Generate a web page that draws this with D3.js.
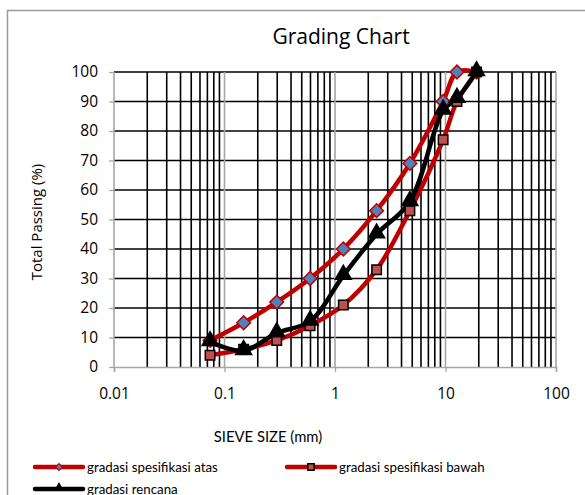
<!DOCTYPE html>
<html><head><meta charset="utf-8">
<script src="https://cdn.jsdelivr.net/npm/d3@7"></script>
<style>body{margin:0;background:#fff}svg{display:block}</style>
</head><body><svg id="c" width="585" height="495" font-family="Lato, sans-serif"></svg>
<script>
const sieve = [19.1, 12.7, 9.52, 4.76, 2.38, 1.19, 0.595, 0.297, 0.149, 0.074];
const atas = [100, 100, 90, 69, 53, 40, 30, 22, 15, 9];
const bawah = [100, 90, 77, 53, 33, 21, 14, 9, 6, 4];
const rencana = [100, 91, 87, 56, 45, 31, 15.5, 11.5, 5.5, 8.5];
const xTicks = [0.01, 0.1, 1, 10, 100];
const yTicks = [0,10,20,30,40,50,60,70,80,90,100];
const seriesNames = ["gradasi spesifikasi atas","gradasi spesifikasi bawah","gradasi rencana"];
const OS = "'Open Sans', sans-serif";

const svg = d3.select("#c");
svg.append("rect").attr("x",7.5).attr("y",10.5).attr("width",600).attr("height",600)
  .attr("fill","none").attr("stroke","#9a9a9a").attr("stroke-width",1.5);

const x = d3.scaleLog().domain([0.01,100]).range([114,556]);
const y = d3.scaleLinear().domain([0,100]).range([367,72]);

const minors = [];
for (let e=-2;e<2;e++) for (let k=2;k<=9;k++) minors.push(k*Math.pow(10,e));
svg.append("g").selectAll("line").data(minors).join("line")
  .attr("x1",d=>x(d)).attr("x2",d=>x(d)).attr("y1",y(0)).attr("y2",y(100))
  .attr("stroke","#000").attr("stroke-width",1.6);
svg.append("g").selectAll("line").data(yTicks.filter(d=>d>0)).join("line")
  .attr("x1",x(0.01)).attr("x2",x(100)).attr("y1",d=>y(d)).attr("y2",d=>y(d))
  .attr("stroke","#000").attr("stroke-width",1.6);
svg.append("g").selectAll("line").data(xTicks).join("line")
  .attr("x1",d=>x(d)).attr("x2",d=>x(d)).attr("y1",y(0)).attr("y2",y(100))
  .attr("stroke","#a6a6a6").attr("stroke-width",1.6);

const yAxis = d3.axisLeft(y).tickValues(yTicks).tickSize(5).tickPadding(11);
const gy = svg.append("g").attr("transform",`translate(${x(0.01)},0)`).call(yAxis);
gy.select(".domain").remove();
gy.selectAll("line").attr("stroke","#a6a6a6").attr("stroke-width",1.3);
gy.selectAll("text").style("font-size","15.5px").style("font-family",OS).attr("fill","#000");

const xAxis = d3.axisBottom(x).tickValues(xTicks).tickFormat(d=>String(d)).tickSize(5).tickPadding(16);
const gx = svg.append("g").attr("transform",`translate(0,${y(0)})`).call(xAxis);
gx.select(".domain").attr("stroke","#a6a6a6").attr("stroke-width",1.6);
gx.selectAll("line").attr("stroke","#a6a6a6").attr("stroke-width",1.3);
gx.selectAll("text").style("font-size","15.5px").style("font-family",OS).attr("fill","#000");

const line = d3.line().x((d,i)=>x(sieve[i])).y(d=>y(d)).curve(d3.curveCatmullRom.alpha(0.5));
const g = svg.append("g");
g.append("path").attr("d",line(atas)).attr("fill","none").attr("stroke","#c00000").attr("stroke-width",4.5);
g.append("path").attr("d",line(bawah)).attr("fill","none").attr("stroke","#c00000").attr("stroke-width",4.5);
g.append("path").attr("d",line(rencana)).attr("fill","none").attr("stroke","#000").attr("stroke-width",4.5);

const diamond = d3.symbol().type(d3.symbolDiamond2).size(120);
const square = d3.symbol().type(d3.symbolSquare).size(90);
const tri = d3.symbol().type(d3.symbolTriangle).size(110);

function markersA(sel,data){ sel.selectAll(null).data(data).join("path")
  .attr("transform",(d,i)=>`translate(${x(sieve[i])},${y(d)})`).attr("d",diamond)
  .attr("fill","#4f81bd").attr("stroke","#c00000").attr("stroke-width",1.5);}
function markersB(sel,data){ sel.selectAll(null).data(data).join("path")
  .attr("transform",(d,i)=>`translate(${x(sieve[i])},${y(d)})`).attr("d",square)
  .attr("fill","#c0504d").attr("stroke","#000").attr("stroke-width",1.5);}
function markersR(sel,data){ sel.selectAll(null).data(data).join("path")
  .attr("transform",(d,i)=>`translate(${x(sieve[i])},${y(d)-1})`).attr("d",tri)
  .attr("fill","#000").attr("stroke","#000").attr("stroke-width",1.5);}
markersA(g.append("g"),atas);
markersB(g.append("g"),bawah);
markersR(g.append("g"),rencana);

svg.append("text").attr("x",341).attr("y",44).attr("text-anchor","middle").style("font-size","21px").style("font-family",OS).text("Grading Chart");
svg.append("text").attr("transform","translate(42,222) rotate(-90)").attr("text-anchor","middle").style("font-size","15px").style("font-family",OS).text("Total Passing (%)");
svg.append("text").attr("x",268).attr("y",442).attr("text-anchor","middle").style("font-size","14.8px").text("SIEVE SIZE (mm)");

const leg = [{x:35,y:467,c:"#c00000",m:"a"},{x:287,y:467,c:"#c00000",m:"b"},{x:35,y:489,c:"#000",m:"r"}];
leg.forEach((L,i)=>{
  const lg = svg.append("g");
  lg.append("line").attr("x1",L.x).attr("x2",L.x+48).attr("y1",L.y).attr("y2",L.y).attr("stroke",L.c).attr("stroke-width",4.5).attr("stroke-linecap","round");
  const cx=L.x+24;
  if(L.m==="a") lg.append("path").attr("transform",`translate(${cx},${L.y})`).attr("d",d3.symbol().type(d3.symbolDiamond2).size(30)).attr("fill","#4f81bd").attr("stroke","#c00000").attr("stroke-width",1.2);
  if(L.m==="b") lg.append("path").attr("transform",`translate(${cx},${L.y})`).attr("d",d3.symbol().type(d3.symbolSquare).size(40)).attr("fill","#c0504d").attr("stroke","#000").attr("stroke-width",1.5);
  if(L.m==="r") lg.append("path").attr("transform",`translate(${cx},${L.y-1})`).attr("d",d3.symbol().type(d3.symbolTriangle).size(45)).attr("fill","#000");
  lg.append("text").attr("x",L.x+52).attr("y",L.y+4.5).style("font-size","13.3px").text(seriesNames[i]);
});
</script></body></html>
